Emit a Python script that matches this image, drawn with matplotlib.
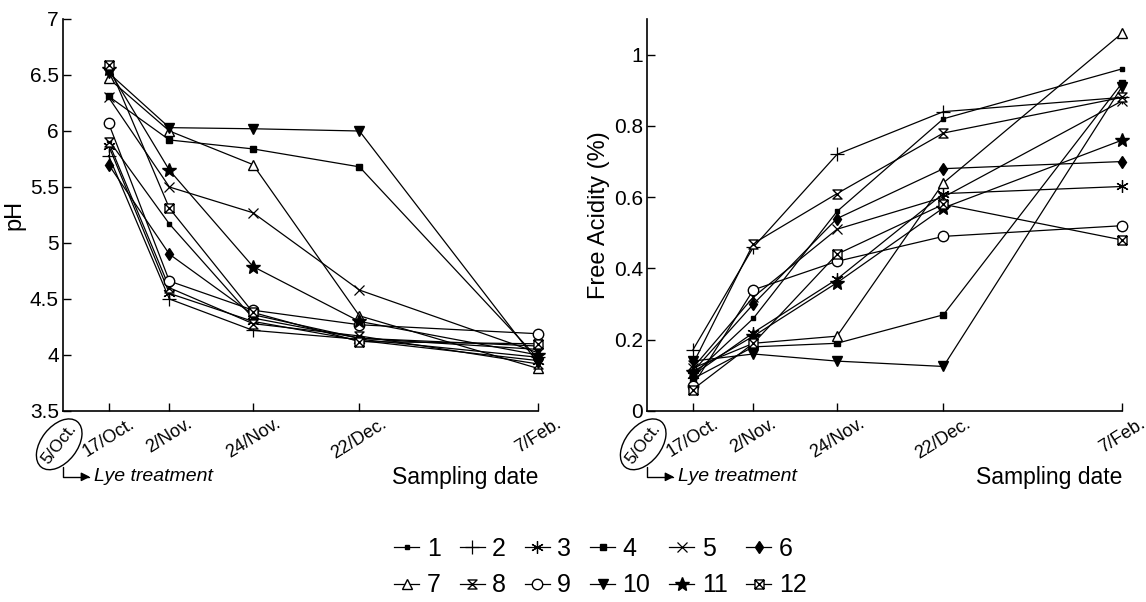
import numpy as np
import matplotlib
matplotlib.use('Agg')
import matplotlib.pyplot as plt
from matplotlib.path import Path
from matplotlib.lines import Line2D
from matplotlib.patches import Ellipse
import matplotlib.transforms as mtransforms

plt.rcParams['font.family'] = ['Liberation Sans', 'DejaVu Sans']

# sampling dates as days after lye treatment (5/Oct.)
days = [12, 28, 50, 78, 125]
tick_days = [0, 12, 28, 50, 78, 125]
tick_labels = ['5/Oct.', '17/Oct.', '2/Nov.', '24/Nov.', '22/Dec.', '7/Feb.']
names = ['1', '2', '3', '4', '5', '6', '7', '8', '9', '10', '11', '12']

# pH of each sample at each sampling date
ph_values = [
    [5.92, 5.17, 4.33, 4.15, 4.05],
    [5.78, 4.50, 4.22, 4.14, 3.98],
    [5.87, 4.55, 4.30, 4.13, 3.95],
    [6.31, 5.92, 5.84, 5.68, 3.97],
    [6.30, 5.50, 5.27, 4.58, 4.02],
    [5.70, 4.90, 4.36, 4.15, 4.08],
    [6.47, 6.00, 5.70, 4.35, 3.88],
    [5.90, 4.60, 4.28, 4.17, 3.92],
    [6.07, 4.66, 4.40, 4.27, 4.19],
    [6.52, 6.03, 6.02, 6.00, 3.93],
    [6.55, 5.65, 4.79, 4.30, 4.00],
    [6.59, 5.31, 4.38, 4.12, 4.10],
]

# free acidity (%) of each sample at each sampling date
acid_values = [
    [0.10, 0.26, 0.56, 0.82, 0.96],
    [0.17, 0.46, 0.72, 0.84, 0.88],
    [0.10, 0.22, 0.37, 0.61, 0.63],
    [0.09, 0.18, 0.19, 0.27, 0.92],
    [0.12, 0.32, 0.51, 0.60, 0.87],
    [0.11, 0.30, 0.54, 0.68, 0.70],
    [0.12, 0.19, 0.21, 0.64, 1.06],
    [0.13, 0.47, 0.61, 0.78, 0.88],
    [0.07, 0.34, 0.42, 0.49, 0.52],
    [0.14, 0.16, 0.14, 0.125, 0.91],
    [0.11, 0.21, 0.36, 0.57, 0.76],
    [0.06, 0.19, 0.44, 0.58, 0.48],
]

M, L, C = Path.MOVETO, Path.LINETO, Path.CLOSEPOLY
hourglass = Path([(-1, 1), (1, 1), (-1, -1), (1, -1), (-1, 1)], [M, L, L, L, C])
boxx = Path([(-1, -1), (1, -1), (1, 1), (-1, 1), (-1, -1),
             (-1, -1), (1, 1), (-1, 1), (1, -1)],
            [M, L, L, L, C, M, L, M, L])

styles = [
    dict(marker='s', ms=2.5, mfc='k'),
    dict(marker='+', ms=10, mew=0.9),
    dict(marker=(6, 2, 0), ms=9, mew=0.9),
    dict(marker='s', ms=5, mfc='k'),
    dict(marker='x', ms=7, mew=0.9),
    dict(marker='d', ms=6, mfc='k'),
    dict(marker='^', ms=7.5, mfc='w'),
    dict(marker=hourglass, ms=6.5, mfc='w'),
    dict(marker='o', ms=7.5, mfc='w'),
    dict(marker='v', ms=7.5, mfc='k'),
    dict(marker='*', ms=10, mfc='k'),
    dict(marker=boxx, ms=6.5, mfc='w'),
]

fig = plt.figure(figsize=(11.46, 6.02), dpi=100)
W, H = 1146, 602
ax1 = fig.add_axes([63 / W, (H - 411) / H, 475 / W, 392 / H])
ax2 = fig.add_axes([647 / W, (H - 411) / H, 475 / W, 392 / H])


def draw(ax, values, ylim, yticks, yticklabels, ylabel):
    for vals, st in zip(values, styles):
        ax.plot(days, vals, color='k', lw=0.9, mec='k', clip_on=False, **st)
    ax.set_xlim(0, 125)
    ax.set_ylim(*ylim)
    ax.set_yticks(yticks)
    ax.set_yticklabels(yticklabels, fontsize=15)
    ax.set_xticks(tick_days[1:])
    ax.set_xticklabels(tick_labels[1:], fontsize=13, rotation=32,
                       ha='center', va='top')
    shift = mtransforms.ScaledTranslation(0.07, 0, fig.dpi_scale_trans)
    for lab in ax.get_xticklabels():
        lab.set_transform(lab.get_transform() + shift)
    ax.tick_params(direction='in', length=6, width=1, pad=3)
    for s in ['top', 'right']:
        ax.spines[s].set_visible(False)
    for s in ['left', 'bottom']:
        ax.spines[s].set_linewidth(1.2)
    ax.set_ylabel(ylabel, fontsize=17, labelpad=3)

    # circled start date with the lye treatment arrow
    at = mtransforms.ScaledTranslation(-0.008, -0.085, ax.transAxes)
    ax.text(0, 0, tick_labels[0], transform=fig.dpi_scale_trans + at,
            fontsize=12.5, rotation=52, ha='center', va='center')
    ax.add_patch(Ellipse((0, 0), 0.58, 0.36, angle=52, fc='none', ec='k',
                         lw=1.0, transform=fig.dpi_scale_trans + at,
                         clip_on=False))
    ax.annotate('', xy=(0.057, -0.168), xycoords='axes fraction',
                xytext=(0.0, -0.143), textcoords='axes fraction',
                arrowprops=dict(arrowstyle='-|>', color='k', lw=1.0,
                                mutation_scale=13, shrinkA=0, shrinkB=0,
                                connectionstyle='angle,angleA=90,angleB=0,rad=0'))
    ax.text(0.066, -0.168, 'Lye treatment', transform=ax.transAxes,
            fontsize=14, style='italic', ha='left', va='center')
    ax.text(1.0, -0.17, 'Sampling date', transform=ax.transAxes,
            fontsize=16.5, ha='right', va='center')


draw(ax1, ph_values, (3.5, 7), [3.5, 4, 4.5, 5, 5.5, 6, 6.5, 7],
     ['3.5', '4', '4.5', '5', '5.5', '6', '6.5', '7'], 'pH')
draw(ax2, acid_values, (0, 1.1), [0, 0.2, 0.4, 0.6, 0.8, 1],
     ['0', '0.2', '0.4', '0.6', '0.8', '1'], 'Free Acidity (%)')

handles = [Line2D([], [], color='k', lw=0.9, mec='k', **st) for st in styles]
order = [0, 6, 1, 7, 2, 8, 3, 9, 4, 10, 5, 11]
fig.legend([handles[i] for i in order], [names[i] for i in order],
           loc='center', bbox_to_anchor=(0.524, 0.058), ncol=6, frameon=False,
           fontsize=18, handlelength=1.0, handletextpad=0.3,
           columnspacing=0.75, labelspacing=0.5)

fig.savefig('out.png', dpi=100)
